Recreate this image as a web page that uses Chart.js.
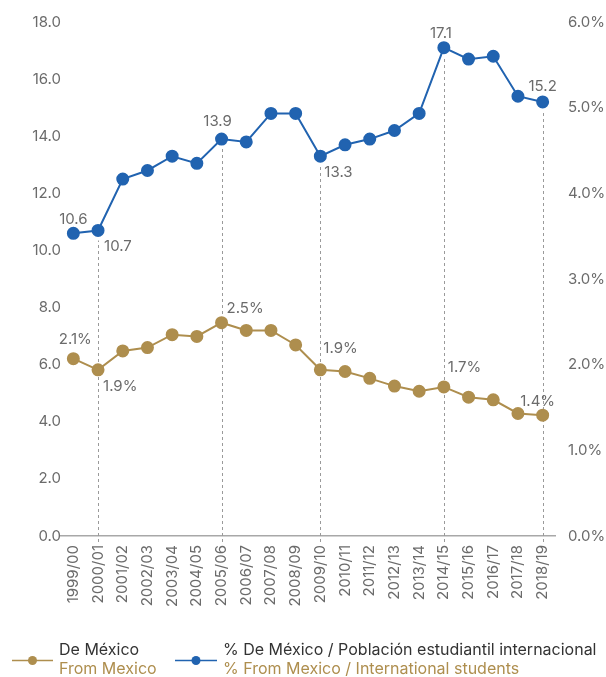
<!DOCTYPE html>
<html>
<head>
<meta charset="utf-8">
<script src="https://cdn.jsdelivr.net/npm/chart.js@4.4.1/dist/chart.umd.min.js"></script>
<style>
  html, body { margin: 0; padding: 0; background: #fff; }
  #wrap { width: 606px; height: 677px; position: relative; }
</style>
</head>
<body>
<div id="wrap"><canvas id="chart"></canvas></div>
<script>
const years = ['1999/00','2000/01','2001/02','2002/03','2003/04','2004/05','2005/06','2006/07','2007/08','2008/09',
  '2009/10','2010/11','2011/12','2012/13','2013/14','2014/15','2015/16','2016/17','2017/18','2018/19'];
// gold series, plotted against right axis (%)
const fromMexico = [2.07, 1.94, 2.16, 2.2, 2.35, 2.33, 2.49, 2.4, 2.4, 2.23,
  1.94, 1.92, 1.84, 1.75, 1.69, 1.74, 1.62, 1.59, 1.43, 1.41];
// blue series, plotted against left axis
const pctFromMexico = [10.6, 10.7, 12.5, 12.8, 13.3, 13.05, 13.9, 13.8, 14.8, 14.8,
  13.3, 13.7, 13.9, 14.2, 14.8, 17.1, 16.7, 16.8, 15.4, 15.2];
const leftTicks = [0, 2, 4, 6, 8, 10, 12, 14, 16, 18];
const rightTicks = [0, 1, 2, 3, 4, 5, 6];
const markedYears = [1, 6, 10, 15, 19];

const GOLD = '#ae8e4e';
const BLUE = '#2163b0';
const GREY = '#6b6b6b';
const FONT = 'Inter, "Noto Sans", sans-serif';

// label placement: index -> [dx, dy, align]
const blueLabels = {0: [0, -14, 'center'], 1: [6, 16, 'left'], 6: [-4, -18, 'center'],
  10: [4, 16, 'left'], 15: [-3, -14, 'center'], 19: [0, -15, 'center']};
const goldLabels = {0: [2, -19, 'center'], 1: [5, 17, 'left'], 6: [5, -14, 'left'],
  10: [3, -21, 'left'], 15: [4, -19, 'left'], 19: [-5, -14, 'center']};

const extras = {
  id: 'extras',
  beforeDatasetsDraw(chart) {
    const ctx = chart.ctx;
    const xs = chart.scales.x, yl = chart.scales.yL;
    ctx.save();
    ctx.strokeStyle = '#9a9a9a';
    ctx.lineWidth = 1;
    ctx.setLineDash([3, 3]);
    markedYears.forEach(i => {
      const x = Math.round(xs.getPixelForValue(i)) + 0.5;
      const top = yl.getPixelForValue(pctFromMexico[i]) + 10;
      ctx.beginPath();
      ctx.moveTo(x, chart.chartArea.bottom + 6);
      ctx.lineTo(x, top);
      ctx.stroke();
    });
    ctx.restore();
  },
  afterDatasetsDraw(chart) {
    const ctx = chart.ctx;
    ctx.save();
    ctx.font = '15px ' + FONT;
    ctx.fillStyle = GREY;
    ctx.textBaseline = 'middle';
    const draw = (meta, values, cfg, suffix) => {
      Object.keys(cfg).forEach(k => {
        const i = +k, p = meta.data[i];
        const [dx, dy, align] = cfg[k];
        ctx.textAlign = align;
        ctx.fillText(values[i].toFixed(1) + suffix, p.x + dx, p.y + dy);
      });
    };
    draw(chart.getDatasetMeta(1), pctFromMexico, blueLabels, '');
    draw(chart.getDatasetMeta(0), fromMexico, goldLabels, '%');

    // legend
    ctx.font = '16px ' + FONT;
    const items = [
      {x: 12, w: 41, color: GOLD, es: 'De México', en: 'From Mexico'},
      {x: 175, w: 42, color: BLUE, es: '% De México / Población estudiantil internacional', en: '% From Mexico / International students'}
    ];
    items.forEach(it => {
      ctx.strokeStyle = it.color;
      ctx.lineWidth = 1.5;
      ctx.beginPath();
      ctx.moveTo(it.x, 660.5);
      ctx.lineTo(it.x + it.w, 660.5);
      ctx.stroke();
      ctx.fillStyle = it.color;
      ctx.beginPath();
      ctx.arc(it.x + it.w / 2, 660.5, 4.5, 0, Math.PI * 2);
      ctx.fill();
      ctx.textAlign = 'left';
      ctx.fillStyle = '#333';
      ctx.fillText(it.es, it.x + it.w + 6, 650);
      ctx.fillStyle = GOLD;
      ctx.fillText(it.en, it.x + it.w + 6, 669);
    });
    ctx.restore();
  }
};

new Chart(document.getElementById('chart'), {
  type: 'line',
  data: {
    labels: years,
    datasets: [
      {label: 'De México', data: fromMexico, yAxisID: 'yR', borderColor: GOLD, backgroundColor: GOLD,
        borderWidth: 2, pointRadius: 5.5, pointHoverRadius: 5.5, tension: 0},
      {label: '% De México / Población estudiantil internacional', data: pctFromMexico, yAxisID: 'yL',
        borderColor: BLUE, backgroundColor: BLUE, borderWidth: 2, pointRadius: 5.5, pointHoverRadius: 5.5, tension: 0}
    ]
  },
  options: {
    responsive: true,
    maintainAspectRatio: false,
    animation: false,
    layout: {padding: {top: 20, left: 0, right: 0, bottom: 0}},
    plugins: {legend: {display: false}, tooltip: {enabled: false}},
    scales: {
      x: {
        offset: true,
        grid: {display: false, drawTicks: false},
        border: {display: true, color: '#a8a8a8', width: 1.5},
        ticks: {color: GREY, font: {family: FONT, size: 15}, minRotation: 90, maxRotation: 90, padding: 9, autoSkip: false},
        afterFit(s) { s.height = 141; }
      },
      yL: {
        position: 'left',
        min: 0, max: 18,
        afterBuildTicks(s) { s.ticks = leftTicks.map(v => ({value: v})); },
        grid: {display: false, drawTicks: false},
        border: {display: false},
        ticks: {color: GREY, font: {family: FONT, size: 15}, padding: 0, callback: v => v.toFixed(1)},
        afterFit(s) { s.width = 61; }
      },
      yR: {
        position: 'right',
        min: 0, max: 6,
        afterBuildTicks(s) { s.ticks = rightTicks.map(v => ({value: v})); },
        grid: {display: false, drawTicks: false},
        border: {display: false},
        ticks: {color: GREY, font: {family: FONT, size: 15}, padding: 13, callback: v => v.toFixed(1) + '%'},
        afterFit(s) { s.width = 51; }
      }
    }
  },
  plugins: [extras]
});
</script>
</body>
</html>
